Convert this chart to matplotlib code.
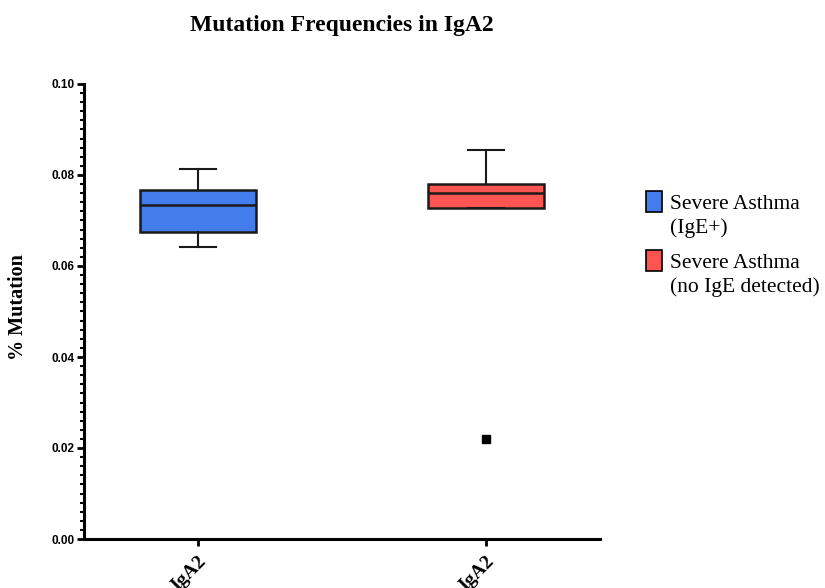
import matplotlib
matplotlib.use("Agg")
import matplotlib.pyplot as plt
from matplotlib.patches import Rectangle
from matplotlib.ticker import MultipleLocator

# data (box stats per group)
groups = ["IgA2", "IgA2"]
series_names = ["Severe Asthma\n(IgE+)", "Severe Asthma\n(no IgE detected)"]
colors = ["#437DEB", "#FF5552"]
whisker_low = [0.0641, 0.0727]
q1 = [0.0675, 0.0727]
median = [0.0733, 0.0761]
q3 = [0.0767, 0.0780]
whisker_high = [0.0813, 0.0855]
outliers = [[], [0.0220]]

serif = "Liberation Serif"
sans = "Liberation Sans"
W, H = 825, 588

fig = plt.figure(figsize=(8.25, 5.88), dpi=100)
ax = fig.add_axes([84 / W, 49 / H, 516 / W, 455 / H])

stats = []
for i in range(len(groups)):
    stats.append(dict(whislo=whisker_low[i], q1=q1[i], med=median[i],
                      q3=q3[i], whishi=whisker_high[i], fliers=outliers[i]))

bp = ax.bxp(stats, positions=range(len(groups)), widths=0.4,
            patch_artist=True, showfliers=True,
            boxprops=dict(linewidth=1.8, edgecolor="#1a1a1a"),
            medianprops=dict(color="#1a1a1a", linewidth=1.8),
            whiskerprops=dict(color="#1a1a1a", linewidth=1.5),
            capprops=dict(color="#1a1a1a", linewidth=1.5),
            flierprops=dict(marker="s", markersize=6, markerfacecolor="black",
                            markeredgecolor="black"))
for box, c in zip(bp["boxes"], colors):
    box.set_facecolor(c)
for cap in bp["caps"]:
    x = cap.get_xdata()
    mid = (x[0] + x[1]) / 2
    cap.set_xdata([mid - 0.064, mid + 0.064])

ax.set_xlim(-0.396, 1.396)
ax.set_ylim(0, 0.10)
ax.yaxis.set_major_locator(MultipleLocator(0.02))
ax.yaxis.set_minor_locator(MultipleLocator(0.002))
ax.set_yticklabels([f"{v:.2f}" for v in ax.get_yticks()],
                   fontfamily=sans, fontweight="bold", fontsize=8.5)
ax.set_xticks(range(len(groups)))
ax.set_xticklabels(groups, rotation=45, ha="right", rotation_mode="anchor",
                   fontfamily=serif, fontweight="bold", fontsize=14)

for s in ["top", "right"]:
    ax.spines[s].set_visible(False)
for s in ["left", "bottom"]:
    ax.spines[s].set_linewidth(2.2)
ax.tick_params(axis="y", which="major", length=5, width=2, pad=2)
ax.tick_params(axis="y", which="minor", length=3, width=1.5)
ax.tick_params(axis="x", which="major", length=5, width=2, pad=5)

ax.set_ylabel("% Mutation", fontfamily=serif, fontweight="bold", fontsize=14.5)
ax.yaxis.set_label_coords(-0.108, 0.51)
ax.set_title("Mutation Frequencies in IgA2", fontfamily=serif,
             fontweight="bold", fontsize=17, pad=38.5)

# legend drawn by hand so the swatch sits next to the first text line
leg_top = [191, 250]
for c, name, top in zip(colors, series_names, leg_top):
    fig.add_artist(Rectangle((646 / W, 1 - (top + 21) / H), 16 / W, 21 / H,
                             transform=fig.transFigure, facecolor=c,
                             edgecolor="black", linewidth=1.2))
    fig.text(670 / W, 1 - (top + 4) / H, name, ha="left", va="top",
             fontfamily=serif, fontsize=15.5, linespacing=1.32)

fig.savefig("out.png", dpi=100)
